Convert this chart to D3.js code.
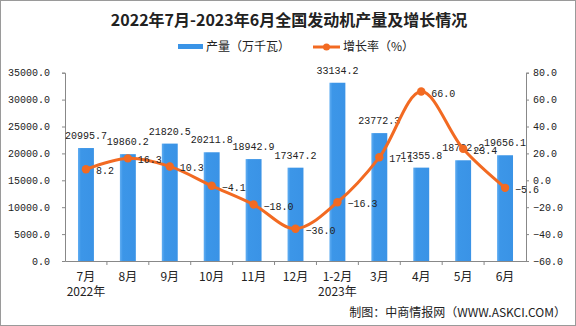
<!DOCTYPE html>
<html><head><meta charset="utf-8">
<script src="https://cdn.jsdelivr.net/npm/d3@7"></script>
<style>
body{margin:0;background:#fff;}
svg{display:block;}
</style></head>
<body>
<svg id="chart" width="576" height="326"></svg>
<script>
const categories = ["7月","8月","9月","10月","11月","12月","1-2月","3月","4月","5月","6月"];
const yearLabels = ["2022年","","","","","","2023年","","","",""];
const production = [20995.7,19860.2,21820.5,20211.8,18942.9,17347.2,33134.2,23772.3,17355.8,18722.2,19656.1];
const growth = [8.2,16.3,10.3,-4.1,-18.0,-36.0,-16.3,17.1,66.0,23.4,-5.6];
const leftTicks = [0,5000,10000,15000,20000,25000,30000,35000];
const rightTicks = [-60,-40,-20,0,20,40,60,80];
const titleText = "2022年7月-2023年6月全国发动机产量及增长情况";
const legendBar = "产量（万千瓦）";
const legendLine = "增长率（%）";
const sourceText = "制图：中商情报网（WWW.ASKCI.COM）";

const svg = d3.select("#chart");
const L = 65, R = 526, T = 72.7, B = 261;
const numFont = "'Liberation Mono','DejaVu Sans Mono',monospace";
const cjkFont = "'Noto Sans CJK SC','Noto Sans',sans-serif";
const blue = "#3A94E7", orange = "#F26A22";
const numSize = 10;

svg.append("rect").attr("x",0.5).attr("y",0.5).attr("width",575).attr("height",325)
  .attr("fill","#fff").attr("stroke","#9a9a9a");

const defs = svg.append("defs");
const g1 = defs.append("linearGradient").attr("id","barGrad").attr("x1","0").attr("x2","1").attr("y1","0").attr("y2","0");
g1.append("stop").attr("offset","0%").attr("stop-color","#62AEF2");
g1.append("stop").attr("offset","18%").attr("stop-color","#3C96E8");
g1.append("stop").attr("offset","100%").attr("stop-color","#3A93E6");

const x = d3.scaleBand().domain(categories).range([L,R]).paddingInner(0.62).paddingOuter(0.31);
const xb = d3.scaleBand().domain(categories).range([L,R]);
const yL = d3.scaleLinear().domain([0,35000]).range([B,T]);
const yR = d3.scaleLinear().domain([-60,80]).range([B,T]);

// title
svg.append("text").attr("x",289).attr("y",26).attr("text-anchor","middle")
  .attr("font-family",cjkFont).attr("font-weight","bold").attr("font-size",16).attr("fill","#222")
  .text(titleText);

// legend
svg.append("rect").attr("x",178).attr("y",44).attr("width",25).attr("height",5).attr("fill",blue);
svg.append("text").attr("x",206).attr("y",51).attr("font-family",cjkFont).attr("font-size",12).attr("fill","#222").text(legendBar);
svg.append("line").attr("x1",313).attr("x2",340).attr("y1",47).attr("y2",47).attr("stroke",orange).attr("stroke-width",3);
svg.append("circle").attr("cx",326.5).attr("cy",47).attr("r",3.5).attr("fill",orange);
svg.append("text").attr("x",343).attr("y",51).attr("font-family",cjkFont).attr("font-size",12).attr("fill","#222").text(legendLine);

// axes
const axisColor = "#888";
const gL = svg.append("g").attr("transform",`translate(${L},0)`)
  .call(d3.axisLeft(yL).tickValues(leftTicks).tickFormat(d3.format(".1f")).tickSize(3).tickPadding(12));
const gR = svg.append("g").attr("transform",`translate(${R},0)`)
  .call(d3.axisRight(yR).tickValues(rightTicks).tickFormat(d3.format(".1f")).tickSize(3).tickPadding(4));
const gX = svg.append("g").attr("transform",`translate(0,${B})`)
  .call(d3.axisBottom(xb).tickSize(0).tickFormat(""));
[gL,gR,gX].forEach(g=>{
  g.select(".domain").attr("stroke",axisColor);
  g.selectAll(".tick line").attr("stroke",axisColor);
  g.selectAll("text").attr("font-family",numFont).attr("font-size",numSize).attr("fill","#222");
});
// category separators
const seps = categories.map((c,i)=> i===0 ? null : xb(c)).filter(v=>v!==null);
svg.append("g").selectAll("line").data(seps).join("line")
  .attr("x1",d=>d).attr("x2",d=>d).attr("y1",B).attr("y2",B+4).attr("stroke",axisColor);

// category labels
svg.append("g").selectAll("text").data(categories).join("text")
  .attr("x",d=>xb(d)+xb.bandwidth()/2).attr("y",281).attr("text-anchor","middle")
  .attr("font-family",cjkFont).attr("font-size",12).attr("fill","#222").text(d=>d);
svg.append("g").selectAll("text").data(categories.map((c,i)=>({c,y:yearLabels[i]})).filter(d=>d.y))
  .join("text")
  .attr("x",d=>xb(d.c)+xb.bandwidth()/2).attr("y",296).attr("text-anchor","middle")
  .attr("font-family",cjkFont).attr("font-size",12).attr("fill","#222").text(d=>d.y);

// bars
svg.append("g").selectAll("rect").data(production).join("rect")
  .attr("x",(d,i)=>x(categories[i])).attr("width",x.bandwidth())
  .attr("y",d=>yL(d)).attr("height",d=>B-yL(d)).attr("fill","url(#barGrad)");

// bar labels
svg.append("g").selectAll("text").data(production).join("text")
  .attr("x",(d,i)=>xb(categories[i])+xb.bandwidth()/2).attr("y",d=>yL(d)-9)
  .attr("text-anchor","middle").attr("font-family",numFont).attr("font-size",numSize).attr("fill","#222")
  .text(d=>d3.format(".1f")(d));

// line
const pts = growth.map((v,i)=>[xb(categories[i])+xb.bandwidth()/2, yR(v)]);
svg.append("path").attr("d",d3.line().curve(d3.curveCatmullRom.alpha(0.5))(pts))
  .attr("fill","none").attr("stroke",orange).attr("stroke-width",3);
svg.append("g").selectAll("circle").data(pts).join("circle")
  .attr("cx",d=>d[0]).attr("cy",d=>d[1]).attr("r",4.2).attr("fill",orange);
svg.append("g").selectAll("text").data(growth).join("text")
  .attr("x",(d,i)=>pts[i][0]+10).attr("y",(d,i)=>pts[i][1]+5)
  .attr("font-family",numFont).attr("font-size",numSize).attr("fill","#222")
  .text(d=>d3.format(".1f")(d));

// source
svg.append("text").attr("x",566).attr("y",317).attr("text-anchor","end")
  .attr("font-family",cjkFont).attr("font-size",12).attr("fill","#222").text(sourceText);
</script>
</body></html>
